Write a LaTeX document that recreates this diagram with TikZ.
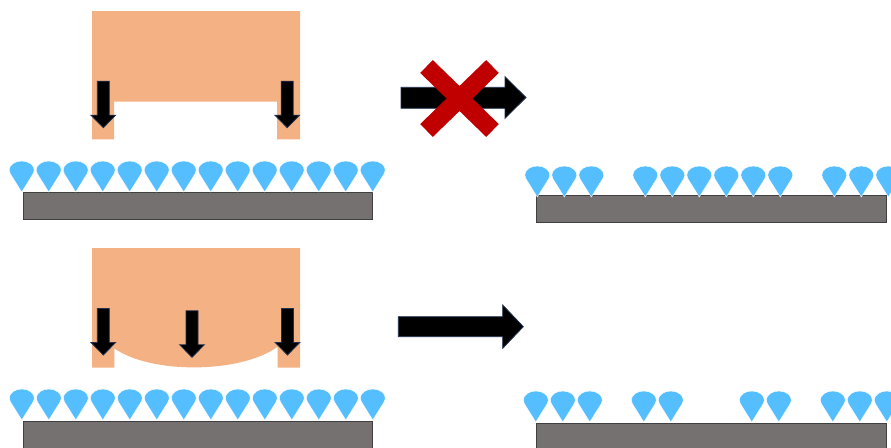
\documentclass[tikz,border=0pt]{standalone}
\usepackage{tikz}
\definecolor{orangec}{HTML}{F4B183}
\definecolor{dropc}{HTML}{55BEFE}
\definecolor{slabc}{HTML}{757170}
\definecolor{slabline}{HTML}{404040}
\definecolor{navyc}{HTML}{1F3050}
\definecolor{redx}{HTML}{C00000}
\tikzset{
  block/.style={fill=orangec},
  slab/.style={fill=slabc, draw=slabline, line width=0.8pt},
  blackarrow/.style={fill=black, draw=navyc, line width=0.8pt, line join=miter},
  droplet/.pic={\fill[dropc, draw=white, line width=0.4pt] (0,31) -- (11.4,12.7) arc[start angle=24.1, end angle=-204.1, x radius=12.5, y radius=9] -- cycle;},
  downarr/.pic={\path[blackarrow] (-6,-46.5) -- (6,-46.5) -- (6,-12.5) -- (12.3,-12.5) -- (0,0) -- (-12.3,-12.5) -- (-6,-12.5) -- cycle;}
}
\begin{document}
\begin{tikzpicture}[x=1pt,y=-1pt]
\useasboundingbox (0,0) rectangle (891,447);
\clip (0,0) rectangle (891,447);
% ---------- top left ----------
\path[block] (92,11) -- (300,11) -- (300,139.3) -- (277,139.3) -- (277,101.7) -- (114,101.7) -- (114,139.3) -- (92,139.3) -- cycle;
\pic at (103.3,127.7) {downarr};
\pic at (287.2,127.7) {downarr};
\path[slab] (23,192) rectangle (372.7,219.3);
\foreach \k in {0,...,13} { \pic at (21.7+27*\k,161) {droplet}; }
% ---------- top middle ----------
\path[blackarrow] (401,87.3) -- (505,87.3) -- (505,76.7) -- (526,97.5) -- (505,118.3) -- (505,108.3) -- (401,108.3) -- cycle;
\draw[redx, line width=18pt, line cap=butt] (426.5,66.5) -- (492.5,130.5);
\draw[redx, line width=18pt, line cap=butt] (492.5,66.5) -- (426.5,130.5);
% ---------- top right ----------
\path[slab] (536,195) rectangle (886.7,222.3);
\foreach \k in {0,1,2,4,5,6,7,8,9,11,12,13} { \pic at (537.3+27*\k,166) {droplet}; }
% ---------- bottom left ----------
\path[block] (92,248) -- (300,248) -- (300,367.7) -- (277.7,367.7) -- (277.7,346.7) .. controls (240,374) and (150,374) .. (114.3,348.3) -- (114.3,367.7) -- (92,367.7) -- cycle;
\pic at (103.3,355) {downarr};
\pic at (192,357.3) {downarr};
\pic at (287.5,355) {downarr};
\path[slab] (23,421) rectangle (372.7,452);
\foreach \k in {0,...,13} { \pic at (21.8+27*\k,389) {droplet}; }
% ---------- bottom middle ----------
\path[blackarrow] (398.3,316.7) -- (502.7,316.7) -- (502.7,305) -- (523.3,326.7) -- (502.7,348.3) -- (502.7,336.7) -- (398.3,336.7) -- cycle;
% ---------- bottom right ----------
\path[slab] (536,423.3) rectangle (886.7,452);
\foreach \k in {0,1,2,4,5,8,9,11,12,13} { \pic at (535.8+27*\k,391) {droplet}; }
\end{tikzpicture}
\end{document}
